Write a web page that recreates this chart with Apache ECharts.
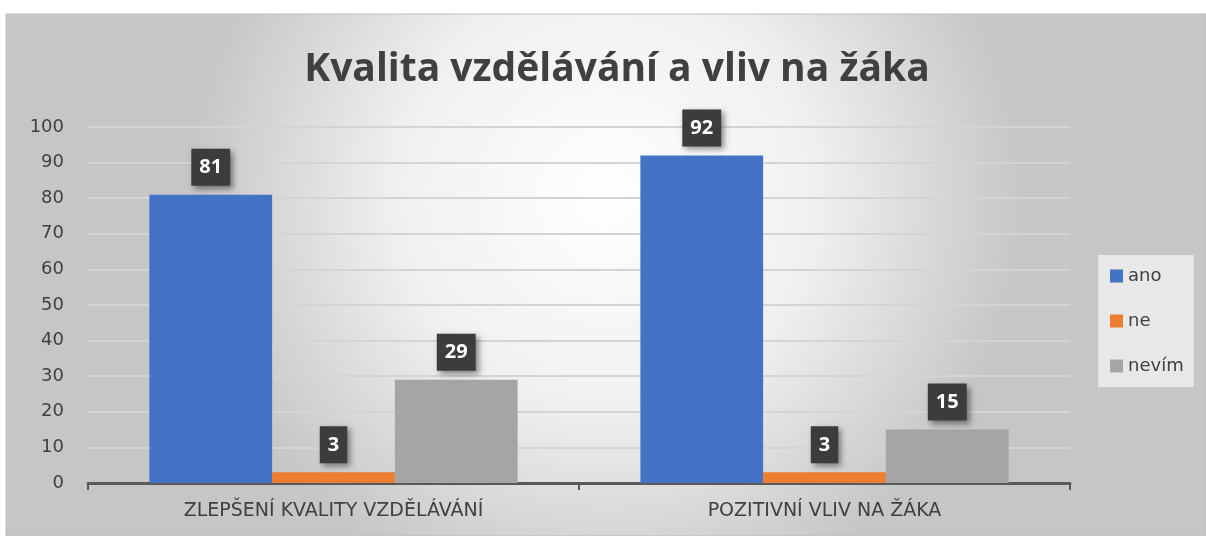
<!DOCTYPE html>
<html>
<head>
<meta charset="utf-8">
<script src="https://cdn.jsdelivr.net/npm/echarts@6/dist/echarts.min.js"></script>
<style>
  html, body { margin: 0; padding: 0; background: #fff; }
  #main { width: 1206px; height: 536px; }
</style>
</head>
<body>
<div id="main"></div>
<script>
// data
const categories = ['ZLEPŠENÍ KVALITY VZDĚLÁVÁNÍ', 'POZITIVNÍ VLIV NA ŽÁKA']
const ano = [81, 92]
const ne = [3, 3]
const nevim = [29, 15]

const chart = echarts.init(document.getElementById('main'))

// popisek hodnoty v tmavém rámečku
const darkLabel = {
  show: true,
  position: 'top',
  distance: 9,
  color: '#fff',
  fontFamily: 'Open Sans',
  fontWeight: 'bold',
  fontSize: 20,
  backgroundColor: '#3c3c3c',
  padding: [9, 8, 8, 8],
  shadowColor: 'rgba(0,0,0,0.45)',
  shadowBlur: 6,
  shadowOffsetX: 3,
  shadowOffsetY: 3
}

function bar(name, data, color) {
  return {
    name: name,
    type: 'bar',
    data: data,
    barGap: '0%',
    barCategoryGap: '25%',
    itemStyle: { color: color },
    label: darkLabel
  }
}

chart.setOption({
  backgroundColor: '#fff',
  graphic: [{
    type: 'rect',
    z: -10,
    silent: true,
    shape: { x: 6, y: 14, width: 1200, height: 522 },
    style: {
      fill: {
        type: 'radial', x: 0.5, y: 0.35, r: 0.8,
        colorStops: [
          { offset: 0, color: '#ffffff' },
          { offset: 0.5, color: '#f0f0f0' },
          { offset: 1, color: '#c6c6c6' }
        ]
      },
      stroke: '#bdbdbd',
      lineWidth: 1
    }
  }],
  title: {
    text: 'Kvalita vzdělávání a vliv na žáka',
    left: 612,
    textAlign: 'center',
    top: 45,
    textStyle: {
      fontFamily: 'Open Sans',
      fontWeight: 'bold',
      fontSize: 39,
      color: '#404040'
    }
  },
  legend: {
    orient: 'vertical',
    left: 1098,
    top: 255,
    padding: [12, 10, 12, 12],
    itemGap: 27,
    itemWidth: 13,
    itemHeight: 13,
    icon: 'rect',
    backgroundColor: 'rgba(235,235,235,0.9)',
    textStyle: { fontFamily: 'DejaVu Sans', fontSize: 18, color: '#404040' },
    data: ['ano', 'ne', 'nevím']
  },
  grid: { left: 88, right: 136, top: 127, bottom: 53, containLabel: false },
  xAxis: {
    type: 'category',
    data: categories,
    axisLine: { lineStyle: { color: '#595959', width: 3 } },
    axisTick: { show: true, length: 7, lineStyle: { color: '#595959', width: 2 } },
    axisLabel: { fontFamily: 'DejaVu Sans', fontSize: 19, color: '#404040', margin: 19 }
  },
  yAxis: {
    type: 'value',
    min: 0,
    max: 100,
    interval: 10,
    axisLine: { show: false },
    axisTick: { show: false },
    axisLabel: { fontFamily: 'DejaVu Sans', fontSize: 18, color: '#404040', margin: 24 },
    splitLine: { lineStyle: { color: '#d4d4d4', width: 2 } }
  },
  series: [
    bar('ano', ano, '#4472C4'),
    bar('ne', ne, '#ED7D31'),
    bar('nevím', nevim, '#A5A5A5')
  ]
})
</script>
</body>
</html>
